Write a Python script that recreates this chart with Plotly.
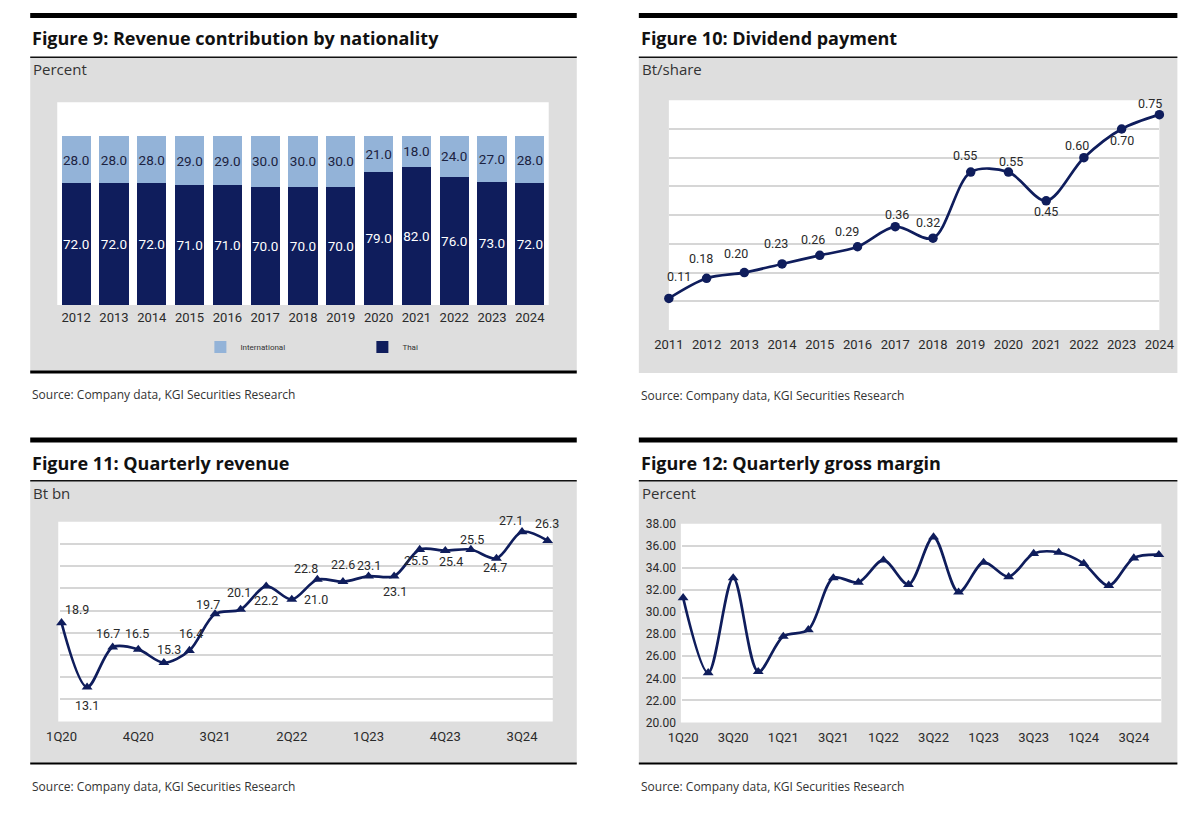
import plotly.graph_objects as go

W, H = 1200, 814
# correction for the capture offset/scale observed in the first render
SX, OX = 0.974, 22.8
SY, OY = 0.984, 14.6


def X(px):
    return ((px - OX) / SX) / W


def Y(py):
    return 1 - ((py - OY) / SY) / H


# ---------------- data ----------------
# Figure 9: Revenue contribution by nationality
years9 = ['2012', '2013', '2014', '2015', '2016', '2017', '2018', '2019',
          '2020', '2021', '2022', '2023', '2024']
thai = [72.0, 72.0, 72.0, 71.0, 71.0, 70.0, 70.0, 70.0, 79.0, 82.0, 76.0, 73.0, 72.0]
international = [28.0, 28.0, 28.0, 29.0, 29.0, 30.0, 30.0, 30.0, 21.0, 18.0, 24.0, 27.0, 28.0]

# Figure 10: Dividend payment
years10 = [2011, 2012, 2013, 2014, 2015, 2016, 2017, 2018, 2019, 2020, 2021, 2022, 2023, 2024]
dividend = [0.11, 0.18, 0.20, 0.23, 0.26, 0.29, 0.36, 0.32, 0.55, 0.55, 0.45, 0.60, 0.70, 0.75]

# Figure 11: Quarterly revenue
quarters = ['1Q20', '2Q20', '3Q20', '4Q20', '1Q21', '2Q21', '3Q21', '4Q21',
            '1Q22', '2Q22', '3Q22', '4Q22', '1Q23', '2Q23', '3Q23', '4Q23',
            '1Q24', '2Q24', '3Q24', '4Q24']
revenue = [18.9, 13.1, 16.7, 16.5, 15.3, 16.4, 19.7, 20.1, 22.2, 21.0,
           22.8, 22.6, 23.1, 23.1, 25.5, 25.4, 25.5, 24.7, 27.1, 26.3]
rev_ticks = ['1Q20', '4Q20', '3Q21', '2Q22', '1Q23', '4Q23', '3Q24']

# Figure 12: Quarterly gross margin
gross_margin = [31.3, 24.5, 33.1, 24.6, 27.8, 28.4, 33.1, 32.7, 34.7, 32.5,
                36.8, 31.8, 34.5, 33.2, 35.3, 35.4, 34.4, 32.4, 34.9, 35.2]
gm_ticks = ['1Q20', '3Q20', '1Q21', '3Q21', '1Q22', '3Q22', '1Q23', '3Q23', '1Q24', '3Q24']

titles = ['Figure 9: Revenue contribution by nationality', 'Figure 10: Dividend payment',
          'Figure 11: Quarterly revenue', 'Figure 12: Quarterly gross margin']
units = ['Percent', 'Bt/share', 'Bt bn', 'Percent']
source = 'Source: Company data, KGI Securities Research'

# ---------------- label placement (style: pixel offsets of each data label) ----------------
div_label_dx = [10, -6, -8, -6, -7, -11, 2, -5, -6, 3, 0, -7, 0, -9]
div_label_dy = [-22, -20, -19, -20, -16, -15, -12, -16, -17, -11, 11, -12, 11, -11]
rev_label_dx = [15, 0, -5, -1, 5, 2, -7, -2, 0, 24, -11, 0, 0, 1, -4, 6, 1, -1, -11, -1]
rev_label_dy = [-13, 18, -14, -16, -13, -17, -9, -17, 14, 0, -11, -17, -11, 15, 11, 11,
                -10, 9, -11, -17]

# ---------------- styles ----------------
NAVY = '#0f1d5c'
LIGHT = '#93b3d8'
GRAY_BG = '#dedede'
GRID = '#d6d6d6'
FONT = 'Roboto, Arial, sans-serif'
TXT = '#2a2a2a'

fig = go.Figure()

# Figure 9 bars
fig.add_trace(go.Bar(
    x=years9, y=thai, name='Thai', marker=dict(color=NAVY, line=dict(width=0)),
    text=[f'{v:.1f}' for v in thai], textposition='inside', insidetextanchor='middle',
    textangle=0, constraintext='none', textfont=dict(color='white', size=13.5, family=FONT),
    xaxis='x', yaxis='y', hoverinfo='skip'))
fig.add_trace(go.Bar(
    x=years9, y=international, name='International', marker=dict(color=LIGHT, line=dict(width=0)),
    text=[f'{v:.1f}' for v in international], textposition='inside', insidetextanchor='middle',
    textangle=0, constraintext='none', textfont=dict(color='#1b2240', size=13.5, family=FONT),
    xaxis='x', yaxis='y', hoverinfo='skip'))

# Figure 10 line
fig.add_trace(go.Scatter(
    x=years10, y=dividend, mode='lines+markers',
    line=dict(color=NAVY, width=2.7, shape='spline', smoothing=0.9),
    marker=dict(symbol='circle', size=9.5, color=NAVY),
    cliponaxis=False, showlegend=False, xaxis='x2', yaxis='y2'))

# Figure 11 line
fig.add_trace(go.Scatter(
    x=quarters, y=revenue, mode='lines+markers',
    line=dict(color=NAVY, width=2.7, shape='spline', smoothing=0.9),
    marker=dict(symbol='triangle-up', size=9.5, color=NAVY),
    cliponaxis=False, showlegend=False, xaxis='x3', yaxis='y3'))

# Figure 12 line
fig.add_trace(go.Scatter(
    x=quarters, y=gross_margin, mode='lines+markers',
    line=dict(color=NAVY, width=2.7, shape='spline', smoothing=0.9),
    marker=dict(symbol='triangle-up', size=9.5, color=NAVY),
    cliponaxis=False, showlegend=False, xaxis='x4', yaxis='y4'))

# ---------------- panels ----------------
panels = [  # left, right, top of gray, bottom of gray, top line y, title y, bottom line width
    (30, 576, 57, 372, 15, 38, 3),
    (638, 1176, 57, 373, 15, 38, 0),
    (30, 576, 481, 764, 440, 463, 2),
    (638, 1176, 481, 764, 440, 463, 2),
]
plots = [  # x0, x1, y0(top), y1(bottom) of white plot area
    (57, 548, 102, 305),
    (668, 1158, 100, 330),
    (58, 552, 522, 722),
    (680, 1160, 524, 723),
]

shapes = []
annotations = []
for i, (l, r, gt, gb, tl, ty, bw) in enumerate(panels):
    shapes.append(dict(type='rect', xref='paper', yref='paper', x0=X(l), x1=X(r), y0=Y(gb), y1=Y(gt),
                       fillcolor=GRAY_BG, line=dict(width=0), layer='below'))
    px0, px1, py0, py1 = plots[i]
    shapes.append(dict(type='rect', xref='paper', yref='paper', x0=X(px0), x1=X(px1), y0=Y(py1), y1=Y(py0),
                       fillcolor='white', line=dict(width=0), layer='below'))
    shapes.append(dict(type='line', xref='paper', yref='paper', x0=X(l), x1=X(r), y0=Y(tl), y1=Y(tl),
                       line=dict(color='black', width=5), layer='above'))
    shapes.append(dict(type='line', xref='paper', yref='paper', x0=X(l), x1=X(r), y0=Y(gt), y1=Y(gt),
                       line=dict(color='#111111', width=1.5), layer='above'))
    if bw:
        shapes.append(dict(type='line', xref='paper', yref='paper', x0=X(l), x1=X(r), y0=Y(gb), y1=Y(gb),
                           line=dict(color='black', width=bw), layer='above'))
    annotations.append(dict(text=f'<b>{titles[i]}</b>', xref='paper', yref='paper', x=X(l), y=Y(ty),
                            xanchor='left', yanchor='middle', showarrow=False,
                            font=dict(size=18, color='#111111', family='Open Sans, sans-serif')))
    annotations.append(dict(text=units[i], xref='paper', yref='paper', x=X(l + 1), y=Y(gt + 12),
                            xanchor='left', yanchor='middle', showarrow=False,
                            font=dict(size=15, color='#333333', family='Open Sans, sans-serif')))
    annotations.append(dict(text=source, xref='paper', yref='paper', x=X(l), y=Y(gb + 23),
                            xanchor='left', yanchor='middle', showarrow=False,
                            font=dict(size=12, color='#333333', family='Open Sans, sans-serif')))

labfont = dict(size=12.5, color=TXT, family=FONT)
for xv, yv, dx, dy in zip(years10, dividend, div_label_dx, div_label_dy):
    annotations.append(dict(x=xv, y=yv, xref='x2', yref='y2', text=f'{yv:.2f}', showarrow=False,
                            xshift=dx, yshift=-dy, font=labfont))
for xv, yv, dx, dy in zip(quarters, revenue, rev_label_dx, rev_label_dy):
    annotations.append(dict(x=xv, y=yv, xref='x3', yref='y3', text=f'{yv:.1f}', showarrow=False,
                            xshift=dx, yshift=-dy, font=labfont))

tickfont = dict(size=13, color=TXT, family=FONT)

layout = dict(
    width=W, height=H, margin=dict(l=0, r=0, t=0, b=0),
    paper_bgcolor='white', plot_bgcolor='rgba(0,0,0,0)',
    barmode='stack', bargap=0.23,
    shapes=shapes, annotations=annotations,
    showlegend=True,
    legend=dict(orientation='h', x=X(200), y=Y(347), xanchor='left', yanchor='middle',
                traceorder='reversed', bgcolor='rgba(0,0,0,0)',
                font=dict(size=8, color='#333333', family=FONT),
                itemwidth=30, entrywidth=117, entrywidthmode='pixels'),
    # fig 9
    xaxis=dict(domain=[X(57), X(548)], anchor='y', showgrid=False, showline=False, zeroline=False,
               tickfont=tickfont, ticks='', ticklabelstandoff=3),
    yaxis=dict(domain=[Y(305), Y(102)], anchor='x', range=[0, 120], showgrid=False,
               showticklabels=False, zeroline=False, showline=False),
    # fig 10
    xaxis2=dict(domain=[X(668), X(1158)], anchor='y2', range=[2011, 2024], dtick=1,
                showgrid=False, showline=False, zeroline=False, tickfont=tickfont, ticks='',
                ticklabelstandoff=5),
    yaxis2=dict(domain=[Y(330), Y(100)], anchor='x2', range=[0, 0.8], dtick=0.1,
                showgrid=True, gridcolor=GRID, gridwidth=2, showticklabels=False,
                zeroline=False, showline=False),
    # fig 11
    xaxis3=dict(domain=[X(60), X(552)], anchor='y3', type='category', range=[-0.05, 19.2],
                tickvals=rev_ticks, showgrid=False, showline=False, zeroline=False,
                tickfont=tickfont, ticks='', ticklabelstandoff=5),
    yaxis3=dict(domain=[Y(722), Y(522)], anchor='x3', range=[10, 28], dtick=2,
                showgrid=True, gridcolor=GRID, gridwidth=2, showticklabels=False,
                zeroline=False, showline=False),
    # fig 12
    xaxis4=dict(domain=[X(681), X(1160)], anchor='y4', type='category', range=[-0.05, 19.1],
                tickvals=gm_ticks, showgrid=False, showline=False, zeroline=False,
                tickfont=tickfont, ticks='', ticklabelstandoff=5),
    yaxis4=dict(domain=[Y(723), Y(524)], anchor='x4', range=[20, 38], dtick=2,
                tickformat='.2f', showgrid=True, gridcolor=GRID, gridwidth=2,
                zeroline=False, showline=False, tickfont=dict(size=12, color=TXT, family=FONT),
                ticks='', ticklabelstandoff=5),
)
fig.update_layout(**layout)

fig.write_html('out.html')
